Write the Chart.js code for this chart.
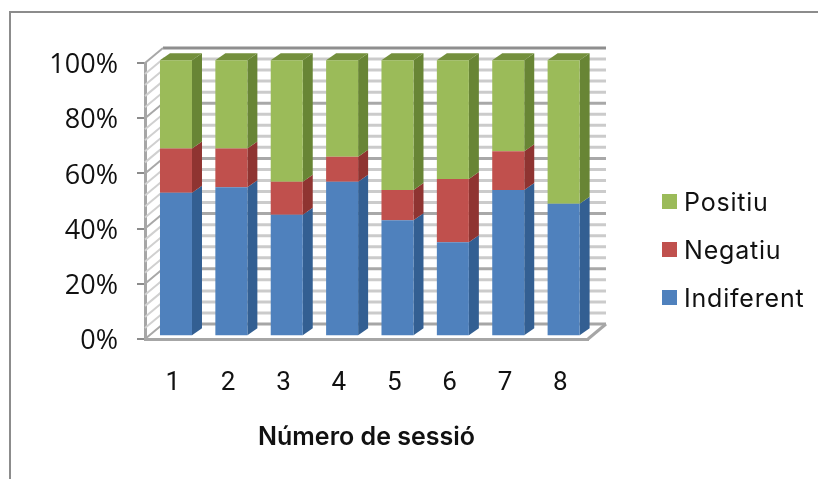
<!DOCTYPE html>
<html>
<head>
<meta charset="utf-8">
<title>Número de sessió</title>
<script src="https://cdn.jsdelivr.net/npm/chart.js@4/dist/chart.umd.js"></script>
<style>
  html, body { margin: 0; padding: 0; background: #fff; }
  canvas { display: block; }
</style>
</head>
<body>
<canvas id="chart" width="818" height="479"></canvas>
<script>
const sessions = ['1', '2', '3', '4', '5', '6', '7', '8'];
const indiferent = [52, 54, 44, 56, 42, 34, 53, 48];
const negatiu = [16, 14, 12, 9, 11, 23, 14, 0];
const positiu = [32, 32, 44, 35, 47, 43, 33, 52];
const gridSteps = [0, 4, 8, 12, 16, 20, 24, 28, 32, 36, 40, 44, 48, 52, 56, 60, 64, 68, 72, 76, 80, 84, 88, 92, 96, 100];

// depth of the fake 3D box and of the bars inside it
const WALL_DX = 18, WALL_DY = 15;
const BAR_DX = 10, BAR_DY = 7;
const BAR_SHIFT_X = 3.3, BAR_SHIFT_Y = -2.8;

function poly(ctx, color, pts) {
    ctx.fillStyle = color;
    ctx.beginPath();
    pts.forEach(([x, y], i) => (i ? ctx.lineTo(x, y) : ctx.moveTo(x, y)));
    ctx.closePath();
    ctx.fill();
}

function line(ctx, color, width, x1, y1, x2, y2) {
    ctx.strokeStyle = color;
    ctx.lineWidth = width;
    ctx.beginPath();
    ctx.moveTo(x1, y1);
    ctx.lineTo(x2, y2);
    ctx.stroke();
}

// outer frame, only left and top are inside the page
const framePlugin = {
    id: 'frame',
    beforeDraw(chart) {
        const ctx = chart.ctx;
        ctx.save();
        ctx.fillStyle = '#fff';
        ctx.fillRect(0, 0, chart.width, chart.height);
        line(ctx, '#8c8c8c', 2, 10, 479, 10, 12);
        line(ctx, '#8c8c8c', 2, 9, 12, 818, 12);
        ctx.restore();
    }
};

// back wall, side wall and floor
const wallsPlugin = {
    id: 'walls',
    beforeDatasetsDraw(chart) {
        const ctx = chart.ctx;
        const y = chart.scales.y;
        const { left, right, bottom } = chart.chartArea;
        ctx.save();
        gridSteps.forEach((v) => {
            const py = y.getPixelForValue(v);
            const color = v === 100 ? '#8e8e8e' : v % 20 === 0 ? '#a8a8a8' : '#cbcbcb';
            if (v > 0) line(ctx, color, 3, left + WALL_DX, py - WALL_DY, right + WALL_DX, py - WALL_DY);
            line(ctx, v % 20 === 0 ? '#a8a8a8' : '#d0d0d0', 2, left, py, left + WALL_DX, py - WALL_DY);
        });
        line(ctx, '#a6a6a6', 3, left + WALL_DX, bottom - WALL_DY, right + WALL_DX, bottom - WALL_DY);
        line(ctx, '#a6a6a6', 3, right, bottom, right + WALL_DX, bottom - WALL_DY);
        ctx.restore();
    }
};

// side and top faces of the bars, the front faces are the datasets themselves
const barDepthPlugin = {
    id: 'barDepth',
    beforeDatasetsDraw(chart) {
        const ctx = chart.ctx;
        ctx.save();
        ctx.translate(BAR_SHIFT_X, BAR_SHIFT_Y);
        const last = chart.data.datasets.length - 1;
        chart.data.datasets.forEach((ds, i) => {
            chart.getDatasetMeta(i).data.forEach((bar) => {
                const l = bar.x - bar.width / 2, r = bar.x + bar.width / 2;
                poly(ctx, ds.sideColor, [[r, bar.y], [r + BAR_DX, bar.y - BAR_DY], [r + BAR_DX, bar.base - BAR_DY], [r, bar.base]]);
                if (i === last) {
                    poly(ctx, ds.topColor, [[l, bar.y], [l + BAR_DX, bar.y - BAR_DY], [r + BAR_DX, bar.y - BAR_DY], [r, bar.y]]);
                }
            });
        });
    },
    afterDatasetsDraw(chart) {
        chart.ctx.restore();
    }
};

const legendPlugin = {
    id: 'sideLegend',
    afterDraw(chart) {
        const ctx = chart.ctx;
        ctx.save();
        ctx.font = '400 25px Inter';
        ctx.letterSpacing = '0.8px';
        ctx.textBaseline = 'middle';
        chart.data.datasets.slice().reverse().forEach((ds, i) => {
            const cy = 203 + i * 48;
            ctx.fillStyle = ds.backgroundColor;
            ctx.fillRect(662, cy - 9, 15, 15);
            ctx.fillStyle = '#111';
            ctx.fillText(ds.label, 684, cy);
        });
        ctx.restore();
    }
};

new Chart(document.getElementById('chart'), {
    type: 'bar',
    data: {
        labels: sessions,
        datasets: [
            { label: 'Indiferent', data: indiferent, backgroundColor: '#4f81bd', sideColor: '#335f92', topColor: '#3f6ea6' },
            { label: 'Negatiu', data: negatiu, backgroundColor: '#c0504d', sideColor: '#8f3431', topColor: '#a03d3a' },
            { label: 'Positiu', data: positiu, backgroundColor: '#9bbb59', sideColor: '#688535', topColor: '#74903d' }
        ]
    },
    options: {
        responsive: false,
        animation: false,
        layout: { padding: { top: 63, right: 230, bottom: 0, left: 0 } },
        datasets: { bar: { categoryPercentage: 1, barPercentage: 0.578, clip: false } },
        plugins: { legend: { display: false }, tooltip: { enabled: false } },
        scales: {
            x: {
                stacked: true,
                afterFit: (scale) => { scale.height = 140; },
                grid: { display: false },
                border: { color: '#a6a6a6', width: 3 },
                ticks: { color: '#111', padding: 21, font: { family: 'Roboto', size: 26 }, maxRotation: 0 },
                title: {
                    display: true,
                    text: 'Número de sessió',
                    color: '#111',
                    font: { family: 'Inter', size: 25, weight: '600' },
                    padding: { top: 0, bottom: 27 }
                }
            },
            y: {
                stacked: true,
                min: 0,
                max: 100,
                afterFit: (scale) => { scale.width = 145; },
                grid: { drawOnChartArea: false, tickLength: 8, color: '#8c8c8c', lineWidth: 2 },
                border: { color: '#a6a6a6', width: 3 },
                ticks: {
                    stepSize: 20,
                    padding: 19,
                    labelOffset: 2.5,
                    color: '#111',
                    font: { family: 'Open Sans', size: 27 },
                    callback: (v) => v + '%'
                }
            }
        }
    },
    plugins: [framePlugin, wallsPlugin, barDepthPlugin, legendPlugin]
});
</script>
</body>
</html>
